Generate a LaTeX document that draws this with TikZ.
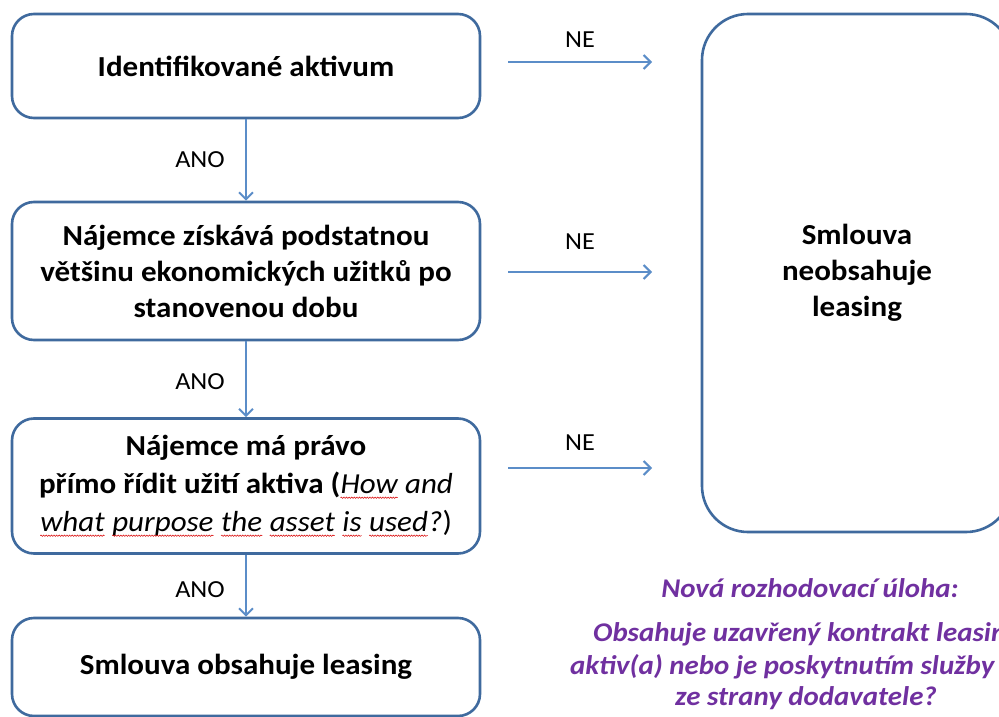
\documentclass[tikz,border=0pt]{standalone}
\usepackage{fontspec}
\setmainfont[FakeStretch=1.07]{Carlito}
\usetikzlibrary{arrows.meta,decorations.pathmorphing}
\definecolor{boxblue}{HTML}{3F6A9E}
\definecolor{arrblue}{HTML}{5B8DC8}
\definecolor{purp}{HTML}{7030A0}
\newcommand\redwave[1]{\tikz[baseline=(w.base),sharp corners]{\node[inner sep=0pt,outer sep=0pt,draw=none,minimum width=0pt,minimum height=0pt] (w) {#1};\draw[red!85!black, sharp corners, line width=0.5pt, decorate, decoration={snake, amplitude=0.7pt, segment length=2.6pt}] ([yshift=-4pt]w.base west) -- ([yshift=-4pt]w.base east);}}
\tikzset{
  flowbox/.style={draw=boxblue, line width=2.6pt, rounded corners=22pt, minimum width=468pt, align=center, font=\fontsize{29}{36}\selectfont\bfseries, fill=white},
  conn/.style={draw=arrblue, line width=2pt, -{Straight Barb[length=7pt,width=14pt]}},
  lbl/.style={font=\fontsize{24.5}{28}\selectfont},
  purptext/.style={text=purp, font=\fontsize{27}{32}\selectfont\bfseries\itshape}
}
\begin{document}
\begin{tikzpicture}[x=1pt,y=-1pt]
\useasboundingbox (0,0) rectangle (999,717);
\clip (0,0) rectangle (999,717);
\fill[white] (0,0) rectangle (999,717);
\node[flowbox, minimum height=104pt] (b1) at (246,66) {Identifikované aktivum};
\node[flowbox, minimum height=138pt] (b2) at (246,271) {Nájemce získává podstatnou\\většinu ekonomických užitků po\\stanovenou dobu};
\node[flowbox, minimum height=135pt, font=\fontsize{29}{38}\selectfont\bfseries] (b3) at (246,486) {Nájemce má právo\\přímo řídit užití aktiva (\mdseries\itshape\redwave{How} and\\\mdseries\itshape\redwave{what} \redwave{purpose} \redwave{the} \redwave{asset} \redwave{is} \redwave{used}?\upshape)};
\node[flowbox, minimum height=98pt] (b4) at (246,667) {Smlouva obsahuje leasing};
\node[draw=boxblue, line width=2.6pt, rounded corners=46pt, minimum width=310pt, minimum height=518pt, align=center, font=\fontsize{29}{36}\selectfont\bfseries] (r) at (857,273) {Smlouva\\neobsahuje\\leasing};
\coordinate (s1) at (508,62); \coordinate (e1) at (652,62);
\coordinate (s2) at (508,272); \coordinate (e2) at (652,272);
\coordinate (s3) at (508,468); \coordinate (e3) at (652,468);
\draw[conn] (s1) -- (e1);
\draw[conn] (s2) -- (e2);
\draw[conn] (s3) -- (e3);
\node[lbl] (ne1) at (580,40) {NE};
\node[lbl] (ne2) at (580,242) {NE};
\node[lbl] (ne3) at (580,443) {NE};
\draw[conn] (b1.south) -- (b2.north);
\draw[conn] (b2.south) -- (b3.north);
\draw[conn] (b3.south) -- (b4.north);
\node[lbl] (a1) at (200,160) {ANO};
\node[lbl] (a2) at (200,382) {ANO};
\node[lbl] (a3) at (200,590) {ANO};
\node[purptext] (h) at (810,588) {Nová rozhodovací úloha:};
\node[purptext, anchor=west, inner sep=0pt] (q1) at (593,634) {Obsahuje uzavřený kontrakt leasing};
\node[purptext, anchor=west, inner sep=0pt] (q2) at (570,667) {aktiv(a) nebo je poskytnutím služby};
\node[purptext] (q3) at (806,698) {ze strany dodavatele?};
\end{tikzpicture}
\end{document}
